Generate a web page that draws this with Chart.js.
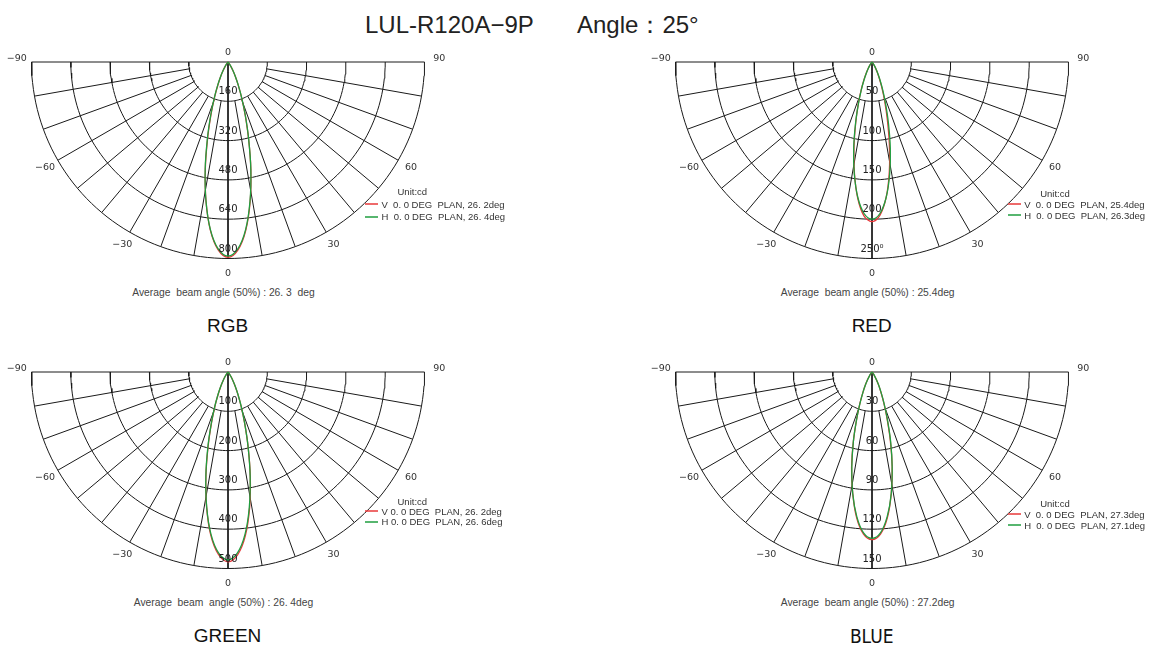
<!DOCTYPE html>
<html>
<head>
<meta charset="utf-8">
<script src="https://cdn.jsdelivr.net/npm/chart.js@4.4.1/dist/chart.umd.min.js"></script>
<style>
  body { margin: 0; width: 1154px; height: 648px; background: #fff; position: relative; overflow: hidden;
         font-family: "Liberation Sans", Arial, sans-serif; color: #222; }
  canvas { position: absolute; }
  .txt { position: absolute; white-space: pre; }
  .titulo { font-size: 24px; line-height: 28px; color: #222; }
  .subtitulo { font-size: 19px; line-height: 22px; text-align: center; width: 200px; color: #111; }
  .angosto { font-family: "Liberation Sans Narrow", "DejaVu Sans Condensed", sans-serif; font-stretch: condensed; }
  .promedio { font-size: 10.3px; line-height: 12px; text-align: center; width: 400px; color: #444; }
  .unidad { font-size: 9.5px; line-height: 11px; color: #333; }
  .serie { font-size: 9.5px; line-height: 11px; color: #333; }
  .muestra { position: absolute; height: 2px; width: 13px; }
</style>
</head>
<body>
<div class="txt titulo" style="left:365px; top:11px">LUL-R120A−9P</div>
<div class="txt titulo" style="left:577px; top:11px">Angle：25°</div>

<script>
// angulos medidos (grados, 0 = eje del haz)
const angulos = [-90, -45, -36, -33, -30, -27, -24, -21, -18, -15, -12, -9, -6, -3, 0,
                 3, 6, 9, 12, 15, 18, 21, 24, 27, 30, 33, 36, 45, 90];

// intensidades (cd)
const rgbV = [0, 2, 10, 21, 38, 64, 99, 151, 223, 320, 444, 573, 688, 766, 795,
              767, 690, 576, 448, 324, 226, 153, 100, 65, 39, 21, 10, 2, 0];
const rgbH = [0, 3, 11, 22, 40, 66, 102, 155, 228, 325, 447, 573, 686, 762, 790,
              762, 686, 573, 447, 325, 228, 155, 102, 66, 40, 22, 11, 3, 0];

const redV = [0, 0.6, 2.8, 5.5, 10, 16.5, 26, 39, 57, 80, 110, 143, 174, 196, 203,
              195, 173, 141, 106, 75, 52, 35, 23, 15, 9, 5, 2.5, 0.6, 0];
const redH = [0, 0.6, 2.6, 5.2, 9.6, 16, 25, 38, 56, 81, 112, 144, 173, 193, 200,
              193, 173, 144, 112, 81, 56, 38, 25, 16, 9.6, 5.2, 2.6, 0.6, 0];

const greenV = [0, 1.5, 6, 13, 23, 39, 60, 92, 135, 195, 270, 348, 418, 465, 483,
                466, 420, 351, 273, 198, 137, 93, 61, 39, 23, 13, 6, 1.5, 0];
const greenH = [0, 1.5, 6.5, 13, 24, 40, 62, 94, 138, 198, 271, 347, 415, 461, 478,
                461, 415, 347, 271, 198, 138, 94, 62, 40, 24, 13, 6.5, 1.5, 0];

const blueV = [0, 0.5, 1.8, 3.6, 6.7, 11, 17, 26, 38, 55, 75, 94, 112, 124, 128,
               124, 112, 94, 74, 54, 37, 25, 16.5, 10.8, 6.5, 3.5, 1.8, 0.5, 0];
const blueH = [0, 0.5, 1.8, 3.5, 6.6, 11, 17, 25.5, 38, 55, 74, 94, 111, 123, 127,
               123, 111, 94, 74, 55, 38, 25.5, 17, 11, 6.6, 3.5, 1.8, 0.5, 0];

// anillos de la escala radial
const anillosRGB = [160, 320, 480, 640, 800];
const anillosRED = [50, 100, 150, 200, 250];
const anillosGREEN = [100, 200, 300, 400, 500];
const anillosBLUE = [30, 60, 90, 120, 150];
const textosRED = ["50", "100", "150", "200", "250⁰"];

// lineas radiales y rotulos de angulo
const radiales = [-80, -70, -60, -50, -40, -30, -20, -10, 10, 20, 30, 40, 50, 60, 70, 80];
const angulosEje = [-90, -60, -30, 0, 30, 60, 90];
const textosEje = ["−90", "−60", "−30", "0", "30", "60", "90"];

const leyendaRGB = ["V  0. 0 DEG  PLAN, 26. 2deg", "H  0. 0 DEG  PLAN, 26. 4deg"];
const leyendaRED = ["V  0. 0 DEG  PLAN, 25.4deg", "H  0. 0 DEG  PLAN, 26.3deg"];
const leyendaGREEN = ["V 0. 0 DEG  PLAN, 26. 2deg", "H 0. 0 DEG  PLAN, 26. 6deg"];
const leyendaBLUE = ["V  0. 0 DEG  PLAN, 27.3deg", "H  0. 0 DEG  PLAN, 27.1deg"];

const promedios = [
    "Average  beam angle (50%) : 26. 3  deg",
    "Average  beam angle (50%) : 25.4deg",
    "Average  beam  angle (50%) : 26. 4deg",
    "Average  beam angle (50%) : 27.2deg"
];
const nombres = ["RGB", "RED", "GREEN", "BLUE"];

const colorV = "#e8383a";
const colorH = "#1f9e3f";
const colorGrilla = "#1a1a1a";
const R = 196.5; // radio en px

const paneles = [
    { cx: 227.5, cy: 62.3, anillos: anillosRGB, textos: anillosRGB.map(String), v: rgbV, h: rgbH, leyenda: leyendaRGB, dyLey: [129, 142, 154.4] },
    { cx: 871.7, cy: 62.3, anillos: anillosRED, textos: textosRED, v: redV, h: redH, leyenda: leyendaRED, dyLey: [131, 142, 152.7] },
    { cx: 227.5, cy: 372.3, anillos: anillosGREEN, textos: anillosGREEN.map(String), v: greenV, h: greenH, leyenda: leyendaGREEN, dyLey: [128.7, 139, 149.5] },
    { cx: 871.7, cy: 372.3, anillos: anillosBLUE, textos: anillosBLUE.map(String), v: blueV, h: blueH, leyenda: leyendaBLUE, dyLey: [130.7, 141.7, 152.7] }
];

function rad(a) {
    return a * Math.PI / 180;
}

function punto(valor, angulo) {
    return { x: valor * Math.sin(rad(angulo)), y: -valor * Math.cos(rad(angulo)) };
}

function linea(data, color, ancho, tension) {
    return {
        data: data,
        showLine: true,
        borderColor: color,
        borderWidth: ancho,
        pointRadius: 0,
        tension: tension || 0,
        fill: false
    };
}

const etiquetasPolar = {
    id: "etiquetasPolar",
    afterDatasetsDraw(chart, args, opts) {
        const { ctx, scales: { x, y } } = chart;
        const max = opts.anillos[opts.anillos.length - 1];
        ctx.save();
        ctx.fillStyle = "#222";
        ctx.textAlign = "center";
        ctx.textBaseline = "middle";
        ctx.font = "10px 'DejaVu Sans'";

        // valores de los anillos sobre el eje vertical
        opts.anillos.forEach((v, i) => {
            ctx.fillText(opts.textos[i], x.getPixelForValue(0), y.getPixelForValue(-v) - 9.5);
        });

        // rotulos de angulo
        ctx.fillStyle = "#333";
        ctx.font = "9.5px 'DejaVu Sans'";
        angulosEje.forEach((a, i) => {
            const p = punto(max * 1.075, a);
            let py = y.getPixelForValue(p.y);
            if (Math.abs(a) === 90) py -= 3.5;
            ctx.fillText(textosEje[i], x.getPixelForValue(p.x), py);
        });
        ctx.fillText("0", x.getPixelForValue(0), y.getPixelForValue(0) - 9.6);
        ctx.restore();
    }
};

function renderPolar(panel, idx) {
    const max = panel.anillos[panel.anillos.length - 1];
    const k = max / R;

    const canvas = document.createElement("canvas");
    canvas.width = 470;
    canvas.height = 245;
    canvas.style.left = (panel.cx - 235) + "px";
    canvas.style.top = (panel.cy - 25) + "px";
    document.body.appendChild(canvas);

    const datasets = [];
    // primero H (queda arriba), luego V
    datasets.push(linea(angulos.map((a, i) => punto(panel.h[i], a)), colorH, 1.3, 0.35));
    datasets.push(linea(angulos.map((a, i) => punto(panel.v[i], a)), colorV, 1.3, 0.35));

    // grilla
    datasets.push(linea([{ x: -max, y: 0 }, { x: max, y: 0 }], colorGrilla, 1));
    datasets.push(linea([{ x: 0, y: 0 }, { x: 0, y: -max }], colorGrilla, 1));
    panel.anillos.forEach((v) => {
        const arco = [];
        for (let a = -90; a <= 90; a += 2) arco.push(punto(v, a));
        datasets.push(linea(arco, colorGrilla, 1));
    });
    radiales.forEach((a) => {
        datasets.push(linea([punto(panel.anillos[0], a), punto(max, a)], colorGrilla, 1));
    });

    new Chart(canvas, {
        type: "scatter",
        data: { datasets: datasets },
        options: {
            responsive: false,
            animation: false,
            devicePixelRatio: 1,
            layout: { padding: 0 },
            scales: {
                x: { type: "linear", display: false, bounds: "data", min: -235 * k, max: 235 * k },
                y: { type: "linear", display: false, bounds: "data", min: -220 * k, max: 25 * k }
            },
            plugins: {
                legend: { display: false },
                tooltip: { enabled: false },
                etiquetasPolar: { anillos: panel.anillos, textos: panel.textos }
            }
        },
        plugins: [etiquetasPolar]
    });

    // leyenda
    const dx = idx % 2 === 0 ? 0 : -1.5;
    agregarTexto("Unit:cd", "txt unidad", panel.cx + 170 + dx, panel.cy + panel.dyLey[0] - 5.5);
    [colorV, colorH].forEach((color, i) => {
        const m = document.createElement("div");
        m.className = "muestra";
        m.style.background = color;
        m.style.opacity = "0.75";
        m.style.left = Math.round(panel.cx + 137.5 + dx) + "px";
        m.style.top = Math.round(panel.cy + panel.dyLey[i + 1] - 1) + "px";
        document.body.appendChild(m);
        agregarTexto(panel.leyenda[i], "txt serie", panel.cx + 154 + dx, panel.cy + panel.dyLey[i + 1] - 5.5);
    });

    // textos debajo
    agregarTexto(promedios[idx], "txt promedio", panel.cx - 204, panel.cy + 230.7 - 6);
    agregarTexto(nombres[idx], "txt subtitulo" + (idx === 3 ? " angosto" : ""), panel.cx - 100, panel.cy + 262.7 - 10.5);
}

function agregarTexto(texto, clase, left, top) {
    const d = document.createElement("div");
    d.className = clase;
    d.textContent = texto;
    d.style.left = left + "px";
    d.style.top = top + "px";
    document.body.appendChild(d);
}

paneles.forEach((p, i) => renderPolar(p, i));
</script>
</body>
</html>
